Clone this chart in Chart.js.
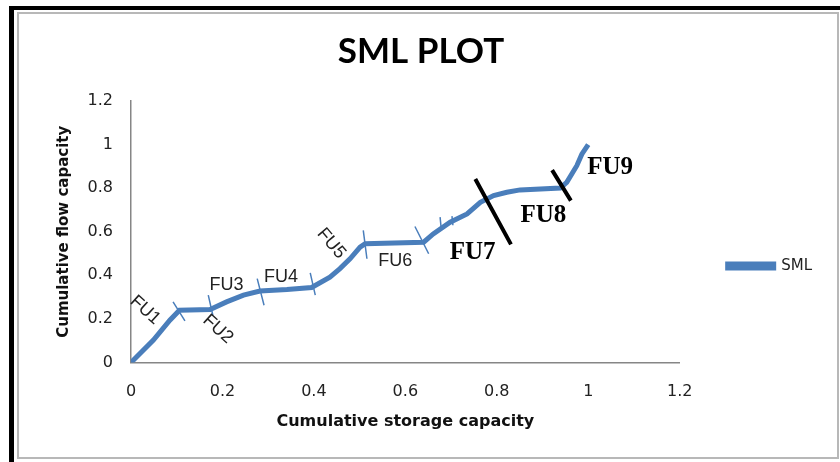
<!DOCTYPE html>
<html>
<head>
<meta charset="utf-8">
<script src="https://cdn.jsdelivr.net/npm/chart.js@4.4.0/dist/chart.umd.min.js"></script>
<style>
  html, body { margin: 0; padding: 0; background: #fff; }
  #wrap { width: 840px; height: 462px; }
</style>
</head>
<body>
<div id="wrap"><canvas id="chart" width="840" height="462"></canvas></div>
<script>
// SML curve
const storageCap = [0, 0.049, 0.085, 0.106, 0.173, 0.209, 0.246, 0.282, 0.341, 0.395,
  0.435, 0.457, 0.479, 0.501, 0.512, 0.640, 0.661, 0.698, 0.735, 0.764,
  0.793, 0.822, 0.851, 0.939, 0.953, 0.975, 0.986, 1.0];
const flowCap = [0, 0.103, 0.194, 0.240, 0.243, 0.278, 0.309, 0.328, 0.335, 0.344,
  0.392, 0.431, 0.476, 0.529, 0.545, 0.552, 0.590, 0.644, 0.682, 0.735,
  0.766, 0.781, 0.792, 0.801, 0.827, 0.903, 0.956, 1.0];

const axisTicks = [0, 0.2, 0.4, 0.6, 0.8, 1, 1.2];

// blue boundary marks between flow units: [x1, y1, x2, y2]
const unitMarks = [
  [0.092, 0.278, 0.118, 0.191],
  [0.169, 0.309, 0.179, 0.217],
  [0.276, 0.385, 0.291, 0.263],
  [0.392, 0.411, 0.403, 0.309],
  [0.508, 0.606, 0.516, 0.476],
  [0.621, 0.624, 0.651, 0.499],
  [0.676, 0.667, 0.678, 0.625],
  [0.702, 0.672, 0.704, 0.630]
];
// black hand-drawn dividers
const dividers = [
  [0.753, 0.842, 0.831, 0.542],
  [0.921, 0.883, 0.962, 0.743]
];

// flow unit labels: name, x, y, angle (deg)
const unitNames = ['FU1', 'FU2', 'FU3', 'FU4', 'FU5', 'FU6', 'FU7', 'FU8', 'FU9'];
const unitX = [0.031, 0.190, 0.209, 0.328, 0.438, 0.578, 0.747, 0.902, 1.048];
const unitY = [0.240, 0.153, 0.354, 0.391, 0.546, 0.464, 0.503, 0.674, 0.893];
const unitAngle = [42, 42, 0, 0, 50, 0, 0, 0, 0];

function segs(list) {
  const pts = [];
  list.forEach(s => {
    pts.push({x: s[0], y: s[1]}, {x: s[2], y: s[3]}, {x: null, y: null});
  });
  return pts;
}

const blue = '#4a7ebb';

const frame = {
  id: 'frame',
  beforeDraw(chart) {
    const c = chart.ctx;
    c.save();
    c.fillStyle = '#fff';
    c.fillRect(0, 0, chart.width, chart.height);
    c.strokeStyle = '#b8b8b8';
    c.lineWidth = 2;
    c.strokeRect(18, 13, 820, 445);
    c.fillStyle = '#000';
    c.fillRect(9, 6, 5, 456);
    c.fillRect(9, 6, 831, 4);
    c.restore();
  },
  afterDatasetsDraw(chart) {
    const c = chart.ctx;
    const xs = chart.scales.x, ys = chart.scales.y;
    c.save();
    unitNames.forEach((name, i) => {
      const px = xs.getPixelForValue(unitX[i]);
      const py = ys.getPixelForValue(unitY[i]);
      c.save();
      c.translate(px, py);
      c.rotate(unitAngle[i] * Math.PI / 180);
      c.textAlign = 'center';
      c.textBaseline = 'middle';
      if (i >= 6) {
        c.font = 'bold 25px "Liberation Serif", serif';
        c.fillStyle = '#000';
      } else {
        c.font = '18px "Liberation Sans", sans-serif';
        c.fillStyle = '#222';
      }
      c.fillText(name, 0, 0);
      c.restore();
    });
    c.restore();
  }
};

Chart.defaults.color = '#222';
Chart.defaults.font.family = '"DejaVu Sans", sans-serif';

new Chart(document.getElementById('chart'), {
  type: 'scatter',
  data: {
    datasets: [{
      label: 'SML',
      data: storageCap.map((x, i) => ({x: x, y: flowCap[i]})),
      showLine: true,
      borderColor: blue,
      backgroundColor: blue,
      borderWidth: 5,
      pointRadius: 0,
      order: 1
    }, {
      label: 'marks',
      data: segs(unitMarks),
      showLine: true,
      spanGaps: false,
      borderColor: blue,
      borderWidth: 1.5,
      pointRadius: 0,
      order: 2
    }, {
      label: 'dividers',
      data: segs(dividers),
      showLine: true,
      spanGaps: false,
      borderColor: '#000',
      borderWidth: 4,
      pointRadius: 0,
      order: 0
    }]
  },
  options: {
    responsive: false,
    animation: false,
    layout: { padding: { left: 20, right: 18, top: 14, bottom: 4 } },
    plugins: {
      title: {
        display: true,
        text: 'SML PLOT',
        color: '#000',
        font: { family: 'Lato, "Liberation Sans", sans-serif', size: 35, weight: 'bold' },
        padding: { top: 17, bottom: 28 }
      },
      legend: {
        position: 'right',
        title: {
          display: true,
          text: ' ',
          font: { size: 15 },
          padding: { top: 0, bottom: 42 }
        },
        labels: {
          boxWidth: 46,
          boxHeight: 4,
          padding: 48,
          color: '#222',
          font: { size: 15 },
          filter: item => item.text === 'SML'
        }
      },
      tooltip: { enabled: false }
    },
    scales: {
      x: {
        type: 'linear',
        min: 0,
        max: 1.2,
        afterBuildTicks: s => { s.ticks = axisTicks.map(v => ({value: v})); },
        afterFit: s => { s.height = 95.5; },
        grid: { display: false, drawTicks: true, tickLength: 7, tickColor: '#868686' },
        border: { color: '#868686', width: 1.5 },
        ticks: { padding: 13, font: { size: 16 }, color: '#222', callback: v => String(v) },
        title: {
          display: true,
          text: 'Cumulative storage capacity',
          color: '#111',
          font: { size: 16, weight: 'bold' },
          padding: { top: 0, bottom: 27 }
        }
      },
      y: {
        type: 'linear',
        min: 0,
        max: 1.2,
        afterBuildTicks: s => { s.ticks = axisTicks.map(v => ({value: v})); },
        afterFit: s => { s.width = 111; },
        grid: { display: false, drawTicks: true, tickLength: 8, tickColor: '#868686' },
        border: { color: '#868686', width: 1.5 },
        ticks: { padding: 10, font: { size: 16 }, color: '#222', callback: v => String(v) },
        title: {
          display: true,
          text: 'Cumulative flow capacity',
          color: '#111',
          font: { size: 15, weight: 'bold' },
          padding: { top: 35, bottom: 0 }
        }
      }
    }
  },
  plugins: [frame]
});
</script>
</body>
</html>
